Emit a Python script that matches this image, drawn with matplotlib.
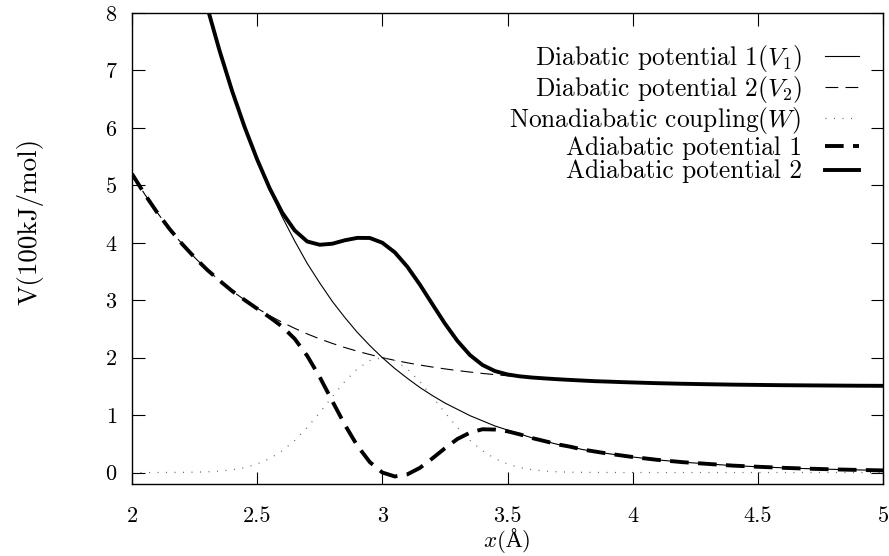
import matplotlib
matplotlib.use("Agg")
import matplotlib.pyplot as plt

plt.rcParams['font.family'] = ['cmr10', 'DejaVu Serif']
plt.rcParams['mathtext.fontset'] = 'cm'
plt.rcParams['axes.formatter.use_mathtext'] = True
plt.rcParams['axes.unicode_minus'] = False

# x positions (Å) at which the curves were read
x = [2.00, 2.05, 2.10, 2.15, 2.20, 2.25, 2.30, 2.35, 2.40, 2.45,
     2.50, 2.55, 2.60, 2.65, 2.70, 2.75, 2.80, 2.85, 2.90, 2.95,
     3.00, 3.05, 3.10, 3.15, 3.20, 3.25, 3.30, 3.35, 3.40, 3.45,
     3.50, 3.55, 3.60, 3.65, 3.70, 3.75, 3.80, 3.85, 3.90, 3.95,
     4.00, 4.10, 4.20, 4.30, 4.40, 4.50, 4.60, 4.70, 4.80, 4.90, 5.00]

# Diabatic potential 1 (V1)
v1 = [14.78, 13.37, 12.10, 10.95, 9.91, 8.96, 8.11, 7.34, 6.64, 6.01,
      5.44, 4.92, 4.45, 4.03, 3.64, 3.30, 2.98, 2.70, 2.44, 2.21,
      2.00, 1.81, 1.64, 1.48, 1.34, 1.21, 1.10, 0.99, 0.90, 0.81,
      0.74, 0.67, 0.60, 0.545, 0.49, 0.45, 0.40, 0.365, 0.33, 0.30,
      0.27, 0.22, 0.18, 0.15, 0.12, 0.10, 0.082, 0.067, 0.055, 0.045, 0.037]

# Diabatic potential 2 (V2)
v2 = [5.20, 4.85, 4.53, 4.24, 3.98, 3.745, 3.53, 3.34, 3.16, 3.005,
      2.86, 2.73, 2.615, 2.51, 2.413, 2.326, 2.248, 2.176, 2.112, 2.054,
      2.00, 1.953, 1.91, 1.871, 1.836, 1.804, 1.775, 1.749, 1.725, 1.704,
      1.684, 1.667, 1.651, 1.637, 1.624, 1.612, 1.601, 1.59, 1.583, 1.575,
      1.568, 1.555, 1.545, 1.537, 1.53, 1.525, 1.52, 1.517, 1.514, 1.511, 1.509]

# Nonadiabatic coupling (W)
w = [0.0001, 0.0002, 0.0004, 0.0011, 0.0026, 0.0058, 0.012, 0.025, 0.047, 0.086,
     0.148, 0.243, 0.378, 0.559, 0.784, 1.044, 1.319, 1.583, 1.802, 1.949,
     2.00, 1.949, 1.802, 1.583, 1.319, 1.044, 0.784, 0.559, 0.378, 0.243,
     0.148, 0.086, 0.047, 0.025, 0.012, 0.0058, 0.0026, 0.0011, 0.0004, 0.0002,
     0.0001, 0.0, 0.0, 0.0, 0.0, 0.0, 0.0, 0.0, 0.0, 0.0, 0.0]

# Adiabatic potential 1
e1 = [5.20, 4.85, 4.53, 4.24, 3.98, 3.745, 3.53, 3.34, 3.159, 3.003,
      2.852, 2.703, 2.540, 2.327, 2.031, 1.661, 1.245, 0.833, 0.467, 0.181,
      0.00, -0.069, -0.032, 0.081, 0.246, 0.422, 0.584, 0.694, 0.753, 0.748,
      0.717, 0.663, 0.598, 0.545, 0.49, 0.45, 0.40, 0.365, 0.33, 0.30,
      0.27, 0.22, 0.18, 0.15, 0.12, 0.10, 0.082, 0.067, 0.055, 0.045, 0.037]

# Adiabatic potential 2
e2 = [14.78, 13.37, 12.10, 10.95, 9.91, 8.96, 8.11, 7.34, 6.641, 6.013,
      5.449, 4.947, 4.525, 4.214, 4.022, 3.965, 3.983, 4.043, 4.085, 4.083,
      4.00, 3.832, 3.582, 3.271, 2.930, 2.593, 2.291, 2.045, 1.872, 1.766,
      1.707, 1.674, 1.653, 1.638, 1.624, 1.612, 1.601, 1.59, 1.583, 1.575,
      1.568, 1.555, 1.545, 1.537, 1.53, 1.525, 1.52, 1.517, 1.514, 1.511, 1.509]

xticks = [2, 2.5, 3, 3.5, 4, 4.5, 5]
xticklabels = ["2", "2.5", "3", "3.5", "4", "4.5", "5"]
yticks = [0, 1, 2, 3, 4, 5, 6, 7, 8]
yticklabels = ["0", "1", "2", "3", "4", "5", "6", "7", "8"]

labels = [r"Diabatic potential 1($V_1$)",
          r"Diabatic potential 2($V_2$)",
          r"Nonadiabatic coupling($W$)",
          "Adiabatic potential 1",
          "Adiabatic potential 2"]

W_PX, H_PX = 889, 556
fig = plt.figure(figsize=(W_PX / 100, H_PX / 100), dpi=100)
ax = fig.add_axes([132 / W_PX, 1 - 484 / H_PX, (883 - 132) / W_PX, (484 - 13) / H_PX])

FS = 16
LFS = 18.3

l1, = ax.plot(x, v1, color='black', lw=0.8)
l2, = ax.plot(x, v2, color='black', lw=0.8, dashes=(11.5, 6.5))
l3, = ax.plot(x, w, color='#666666', lw=0.9, dashes=(0.8, 6.0))
l4, = ax.plot(x, e1, color='black', lw=2.8, dashes=(4.8, 2.4))
l5, = ax.plot(x, e2, color='black', lw=2.8)

ax.set_xlim(2, 5)
ax.set_ylim(-0.2, 8)
ax.set_xticks(xticks)
ax.set_xticklabels(xticklabels)
ax.set_yticks(yticks)
ax.set_yticklabels(yticklabels)
ax.tick_params(axis='both', direction='in', length=9, width=0.8,
               top=True, right=True, labelsize=FS)
ax.tick_params(axis='x', pad=16)
ax.tick_params(axis='y', pad=11)
for s in ax.spines.values():
    s.set_linewidth(1.0)

leg = ax.legend([l1, l2, l3, l4, l5], labels, loc='upper right',
                bbox_to_anchor=(1 - 24 / 751, 1 - 30 / 471),
                frameon=False, markerfirst=False, fontsize=LFS,
                handlelength=1.35, handletextpad=0.9, labelspacing=0.0,
                borderaxespad=0, borderpad=0)
for t in leg.get_texts():
    t.set_ha('right')

fig.text(30 / W_PX, 1 - 221 / H_PX, "V(100kJ/mol)", rotation=90,
         ha='center', va='center', fontsize=19.5)

# x label "x(Å)": pieces on a common baseline, Å from a font that has it
XL_FS = 16.5
pieces = [(r"$x$(", 'cmr10'), ("Å", 'Liberation Serif'), (")", 'cmr10')]
texts = [fig.text(0, 0, s, family=f, fontsize=XL_FS, ha='left', va='baseline')
         for s, f in pieces]
fig.canvas.draw()
rend = fig.canvas.get_renderer()
widths = [t.get_window_extent(rend).width for t in texts]
x0 = 507 - sum(widths) / 2
base_y = 1 - 547 / H_PX
for t, wd in zip(texts, widths):
    t.set_position((x0 / W_PX, base_y))
    x0 += wd

fig.savefig("out.png", dpi=100)
